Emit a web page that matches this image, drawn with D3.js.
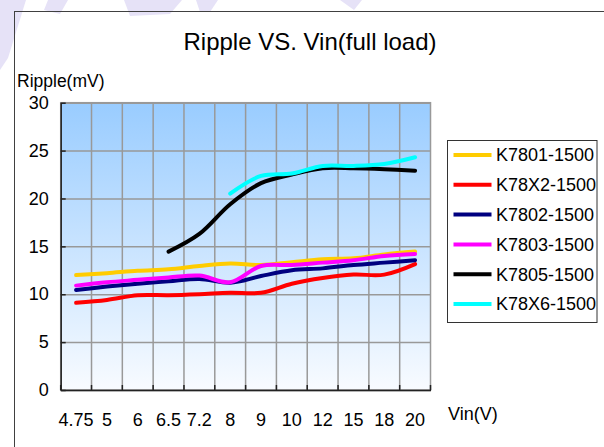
<!DOCTYPE html>
<html>
<head>
<meta charset="utf-8">
<script src="https://cdn.jsdelivr.net/npm/d3@7"></script>
<style>
    body { margin: 0; background: #fff; }
    svg { display: block; font-family: "Liberation Sans", Arial, sans-serif; }
</style>
</head>
<body>
<svg id="chart" width="604" height="447"></svg>
<script>
// input voltage categories (x axis)
const vinLabels = ["4.75", "5", "6", "6.5", "7.2", "8", "9", "10", "12", "15", "18", "20"];
const yTicks = [0, 5, 10, 15, 20, 25, 30];

// ripple in mV, one value per Vin category (null = not measured)
const k7801 = [12.0, 12.2, 12.45, 12.6, 12.95, 13.2, 13.05, 13.35, 13.65, 13.75, 14.15, 14.45];
const k78x2 = [9.1, 9.4, 9.9, 9.9, 10.0, 10.15, 10.15, 11.1, 11.7, 12.05, 12.05, 13.15];
const k7802 = [10.45, 10.8, 11.1, 11.35, 11.6, 11.2, 11.9, 12.5, 12.7, 13.05, 13.3, 13.55];
const k7803 = [10.9, 11.25, 11.5, 11.75, 11.95, 11.25, 12.95, 13.05, 13.3, 13.55, 14.0, 14.2];
const k7805 = [null, null, null, 14.45, 16.3, 19.4, 21.6, 22.5, 23.15, 23.15, 23.05, 22.9];
const k78x6 = [null, null, null, null, null, 20.5, 22.35, 22.6, 23.4, 23.4, 23.6, 24.3];

const seriesNames = ["K7801-1500", "K78X2-1500", "K7802-1500", "K7803-1500", "K7805-1500", "K78X6-1500"];
const seriesValues = [k7801, k78x2, k7802, k7803, k7805, k78x6];
const seriesColors = ["#FFCC00", "#FF0000", "#000080", "#FF00FF", "#000000", "#00FFFF"];

class RippleChart {
    /**
     * @param svgId id of the svg element to draw in
     */
    constructor(svgId) {
        this.svg = d3.select("#" + svgId);
        this.plot = {left: 60.7, right: 430.5, top: 102.7, bottom: 390};
        this.x = d3.scaleBand().domain(vinLabels).range([this.plot.left, this.plot.right]).padding(0);
        this.y = d3.scaleLinear().domain([0, 30]).range([this.plot.bottom, this.plot.top]);
    }

    draw() {
        this.drawBackground();
        this.drawPlotArea();
        this.drawSeries();
        this.drawAxes();
        this.drawLegend();
    }

    // faint watermark shapes + outer frame + titles
    drawBackground() {
        let marks = [
            [[0, 0], [26, 0], [8, 58], [0, 70]],
            [[48, 0], [68, 0], [60, 14], [44, 10]],
            [[124, 0], [182, 0], [170, 14], [130, 16]],
            [[196, 0], [218, 0], [210, 12], [200, 12]],
            [[340, 0], [362, 0], [354, 10]]
        ];
        this.svg.append("g").selectAll("polygon")
            .data(marks)
            .enter()
            .append("polygon")
            .attr("points", d => d.map(p => p.join(",")).join(" "))
            .attr("fill", "#E6E2F7");

        this.svg.append("rect")
            .attr("x", 14.5).attr("y", 11.5)
            .attr("width", 600).attr("height", 450)
            .attr("fill", "none")
            .attr("stroke", "#404040");

        this.svg.append("text")
            .attr("x", 310).attr("y", 50)
            .attr("text-anchor", "middle")
            .attr("font-size", 24)
            .text("Ripple VS. Vin(full load)");

        this.svg.append("text")
            .attr("x", 17).attr("y", 87)
            .attr("font-size", 17.5)
            .text("Ripple(mV)");

        this.svg.append("text")
            .attr("x", 448).attr("y", 420)
            .attr("font-size", 18)
            .text("Vin(V)");
    }

    drawPlotArea() {
        let p = this.plot;
        let grad = this.svg.append("defs").append("linearGradient")
            .attr("id", "plotFill")
            .attr("x1", 0).attr("y1", 0).attr("x2", 0).attr("y2", 1);
        grad.append("stop").attr("offset", "0%").attr("stop-color", "#99CCFF");
        grad.append("stop").attr("offset", "100%").attr("stop-color", "#F8FBFF");

        this.svg.append("rect")
            .attr("x", p.left).attr("y", p.top)
            .attr("width", p.right - p.left).attr("height", p.bottom - p.top)
            .attr("fill", "url(#plotFill)")
            .attr("stroke", "#999")
            .attr("stroke-width", 1.5);

        // horizontal grid
        this.svg.append("g")
            .attr("transform", `translate(${p.left},0)`)
            .call(d3.axisLeft(this.y).tickValues(yTicks).tickSize(-(p.right - p.left)).tickFormat(""))
            .call(g => g.select(".domain").remove())
            .call(g => g.selectAll("line").attr("stroke", "#999").attr("stroke-width", 1.5));

        // vertical grid on the category borders
        let borders = vinLabels.slice(1).map(d => this.x(d));
        this.svg.append("g").selectAll("line")
            .data(borders)
            .enter()
            .append("line")
            .attr("x1", d => d).attr("x2", d => d)
            .attr("y1", p.top).attr("y2", p.bottom)
            .attr("stroke", "#999")
            .attr("stroke-width", 1.5);
    }

    drawSeries() {
        let half = this.x.bandwidth() / 2;
        let line = d3.line()
            .defined(d => d.v != null)
            .x(d => this.x(d.cat) + half)
            .y(d => this.y(d.v))
            .curve(d3.curveCatmullRom);

        this.svg.append("g").selectAll("path")
            .data(seriesValues)
            .enter()
            .append("path")
            .attr("d", vals => line(vals.map((v, i) => ({cat: vinLabels[i], v: v}))))
            .attr("fill", "none")
            .attr("stroke", (d, i) => seriesColors[i])
            .attr("stroke-width", 4)
            .attr("stroke-linecap", "round")
            .attr("stroke-linejoin", "round");
    }

    drawAxes() {
        let p = this.plot;
        this.svg.append("g")
            .attr("transform", `translate(${p.left},0)`)
            .call(d3.axisLeft(this.y).tickValues(yTicks).tickSizeInner(-5).tickSizeOuter(0).tickPadding(12))
            .call(g => g.select(".domain").attr("stroke", "#222").attr("stroke-width", 1.5))
            .call(g => g.selectAll("line").attr("stroke", "#222").attr("stroke-width", 1.5))
            .call(g => g.selectAll("text").attr("font-size", 18).attr("font-family", null).attr("fill", "#000"));

        this.svg.append("g")
            .attr("transform", `translate(0,${p.bottom})`)
            .call(d3.axisBottom(this.x).tickSize(0).tickPadding(23))
            .call(g => g.select(".domain").attr("stroke", "#222").attr("stroke-width", 1.5))
            .call(g => g.selectAll("text").attr("font-size", 18).attr("font-family", null).attr("fill", "#000"));

        // inside ticks on the category borders
        let borders = vinLabels.map(d => this.x(d)).concat([p.right]);
        this.svg.append("g").selectAll("line")
            .data(borders)
            .enter()
            .append("line")
            .attr("x1", d => d).attr("x2", d => d)
            .attr("y1", p.bottom - 5).attr("y2", p.bottom)
            .attr("stroke", "#222")
            .attr("stroke-width", 1.5);
    }

    drawLegend() {
        let lg = this.svg.append("g").attr("transform", "translate(447.5,140.5)");
        lg.append("rect")
            .attr("width", 149.5).attr("height", 182)
            .attr("fill", "#fff")
            .attr("stroke", "#333");

        let items = lg.selectAll("g.item")
            .data(seriesNames)
            .enter()
            .append("g")
            .attr("class", "item")
            .attr("transform", (d, i) => `translate(0,${14.5 + i * 29.8})`);

        items.append("line")
            .attr("x1", 6).attr("x2", 44)
            .attr("stroke", (d, i) => seriesColors[i])
            .attr("stroke-width", 4);

        items.append("text")
            .attr("x", 48.5)
            .attr("dy", "0.35em")
            .attr("font-size", 18)
            .text(d => d);
    }
}

let chart = new RippleChart("chart");
chart.draw();
</script>
</body>
</html>
